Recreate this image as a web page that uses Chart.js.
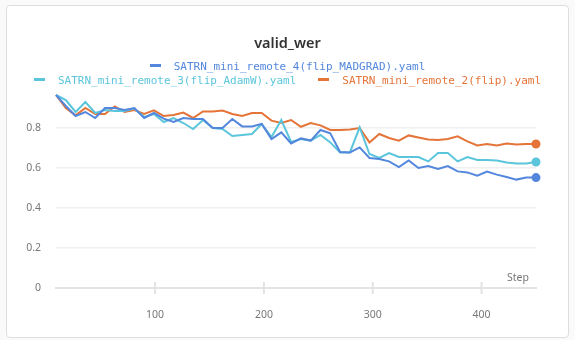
<!DOCTYPE html>
<html>
<head>
<meta charset="utf-8">
<script src="https://cdn.jsdelivr.net/npm/chart.js@4"></script>
<style>
    html, body { margin: 0; padding: 0; background: #fafafa; }
    .card {
        position: absolute; left: 6px; top: 5px; width: 561px; height: 331px;
        background: #fff; border: 1px solid #dedede; border-radius: 4px;
    }
    .wrap { position: absolute; left: 0; top: 0; width: 575px; height: 340px; }
    .title {
        position: absolute; left: 0; top: 33px; width: 575px; text-align: center;
        font: 600 14.5px "Noto Sans", sans-serif; color: #333; line-height: 18px;
    }
    .legend-row {
        position: absolute; left: 0; width: 575px; display: flex; justify-content: center;
        font: 11px "DejaVu Sans Mono", monospace; line-height: 14px; white-space: nowrap;
    }
    .legend-item { display: flex; align-items: center; margin: 0 11px; }
    .legend-item .mark { width: 11px; height: 3px; margin-right: 13px; margin-top: -3px; }
</style>
</head>
<body>
<div class="card"></div>
<div class="wrap"><canvas id="chart" width="575" height="340"></canvas></div>
<div class="title" id="title"></div>
<div class="legend-row" id="row1" style="top: 60px;"></div>
<div class="legend-row" id="row2" style="top: 74px;"></div>
<script>
// valid_wer per step for three runs
const steps = [9, 18, 27, 36, 45, 54, 63, 72, 81, 90,
    99, 108, 117, 126, 135, 144, 153, 162, 171, 180,
    189, 198, 207, 216, 225, 234, 243, 252, 261, 270,
    279, 288, 297, 306, 315, 324, 333, 342, 351, 360,
    369, 378, 387, 396, 405, 414, 423, 432, 441, 450];

const madgrad = [0.965, 0.91, 0.86, 0.88, 0.85, 0.90, 0.90, 0.89, 0.90, 0.85,
    0.875, 0.847, 0.83, 0.85, 0.845, 0.845, 0.80, 0.80, 0.845, 0.808,
    0.808, 0.82, 0.745, 0.778, 0.723, 0.748, 0.737, 0.79, 0.773, 0.68,
    0.678, 0.703, 0.65, 0.645, 0.633, 0.605, 0.638, 0.60, 0.61, 0.595,
    0.61, 0.583, 0.578, 0.562, 0.582, 0.567, 0.555, 0.542, 0.552, 0.552];

const adamw = [0.965, 0.94, 0.88, 0.93, 0.875, 0.89, 0.885, 0.885, 0.897, 0.855,
    0.87, 0.83, 0.85, 0.825, 0.795, 0.84, 0.80, 0.795, 0.76, 0.765,
    0.77, 0.82, 0.755, 0.84, 0.73, 0.745, 0.737, 0.765, 0.728, 0.678,
    0.678, 0.803, 0.67, 0.65, 0.675, 0.655, 0.655, 0.655, 0.633, 0.675,
    0.675, 0.633, 0.655, 0.64, 0.64, 0.638, 0.628, 0.623, 0.623, 0.63];

const flip = [0.965, 0.90, 0.863, 0.90, 0.87, 0.87, 0.908, 0.88, 0.89, 0.87,
    0.888, 0.86, 0.865, 0.877, 0.85, 0.883, 0.883, 0.887, 0.87, 0.86,
    0.875, 0.875, 0.837, 0.825, 0.84, 0.806, 0.825, 0.813, 0.79, 0.79,
    0.792, 0.80, 0.728, 0.77, 0.75, 0.737, 0.763, 0.752, 0.742, 0.74,
    0.745, 0.758, 0.733, 0.713, 0.72, 0.713, 0.723, 0.717, 0.72, 0.72];

const runNames = ['SATRN_mini_remote_4(flip_MADGRAD).yaml',
    'SATRN_mini_remote_3(flip_AdamW).yaml',
    'SATRN_mini_remote_2(flip).yaml'];
const runColors = ['#5387DD', '#5BC5DB', '#E57439'];
const xTickValues = [100, 200, 300, 400];
const yTickValues = [0, 0.2, 0.4, 0.6, 0.8];
const yTickLabels = ['0', '0.2', '0.4', '0.6', '0.8'];

const chartTitle = 'valid_wer';
const xLabel = 'Step';

// html title + legend (first run alone on the top row, like the original)
document.getElementById('title').textContent = chartTitle;
function legendItem(i) {
    const item = document.createElement('div');
    item.className = 'legend-item';
    item.style.color = runColors[i];
    const mark = document.createElement('span');
    mark.className = 'mark';
    mark.style.background = runColors[i];
    const text = document.createElement('span');
    text.textContent = runNames[i];
    item.appendChild(mark);
    item.appendChild(text);
    return item;
}
document.getElementById('row1').appendChild(legendItem(0));
document.getElementById('row2').appendChild(legendItem(1));
document.getElementById('row2').appendChild(legendItem(2));

function makeDataset(values, i) {
    const last = values.length - 1;
    return {
        label: runNames[i],
        data: values.map((v, j) => ({ x: steps[j], y: v })),
        borderColor: runColors[i],
        backgroundColor: runColors[i],
        borderWidth: 2,
        tension: 0,
        clip: false,
        pointRadius: ctx => ctx.dataIndex === last ? 3.5 : 0,
        pointHoverRadius: 0
    };
}

// tick marks crossing the x axis line, y labels, and the "Step" label
const axisExtras = {
    id: 'axisExtras',
    afterDraw(chart) {
        const { ctx, chartArea } = chart;
        const xs = chart.scales.x;
        const ys = chart.scales.y;
        ctx.save();
        ctx.strokeStyle = '#e3e3e3';
        ctx.lineWidth = 2;
        xTickValues.forEach(v => {
            const px = xs.getPixelForValue(v);
            ctx.beginPath();
            ctx.moveTo(px, chartArea.bottom - 6);
            ctx.lineTo(px, chartArea.bottom + 6);
            ctx.stroke();
        });
        ctx.fillStyle = '#777';
        ctx.font = '10.5px "Noto Sans"';
        ctx.textBaseline = 'middle';
        ctx.textAlign = 'right';
        yTickValues.forEach((v, i) => {
            ctx.fillText(yTickLabels[i], chartArea.left - 15, ys.getPixelForValue(v));
        });
        ctx.fillText(xLabel, chartArea.right - 7, chartArea.bottom - 10);
        ctx.restore();
    }
};

new Chart(document.getElementById('chart'), {
    type: 'line',
    data: {
        datasets: [
            makeDataset(madgrad, 0),
            makeDataset(adamw, 1),
            makeDataset(flip, 2)
        ]
    },
    options: {
        responsive: false,
        animation: false,
        layout: { padding: { top: 92, right: 39, bottom: 12, left: 0 } },
        plugins: {
            legend: { display: false },
            title: { display: false },
            tooltip: { enabled: false }
        },
        scales: {
            x: {
                type: 'linear',
                min: 9,
                max: 450,
                afterBuildTicks: s => { s.ticks = xTickValues.map(v => ({ value: v })); },
                afterFit: s => { s.height = 40; },
                grid: { display: false },
                border: { display: true, color: '#e3e3e3', width: 2 },
                ticks: {
                    padding: 13,
                    color: '#777',
                    autoSkip: false,
                    font: { family: 'Noto Sans', size: 10.5 },
                    maxRotation: 0
                }
            },
            y: {
                min: 0,
                max: 0.98,
                afterBuildTicks: s => { s.ticks = yTickValues.map(v => ({ value: v })); },
                afterFit: s => { s.width = 56; },
                grid: { color: '#efefef', lineWidth: 1.5, drawTicks: false },
                border: { display: false },
                ticks: { display: false }
            }
        }
    },
    plugins: [axisExtras]
});
</script>
</body>
</html>
